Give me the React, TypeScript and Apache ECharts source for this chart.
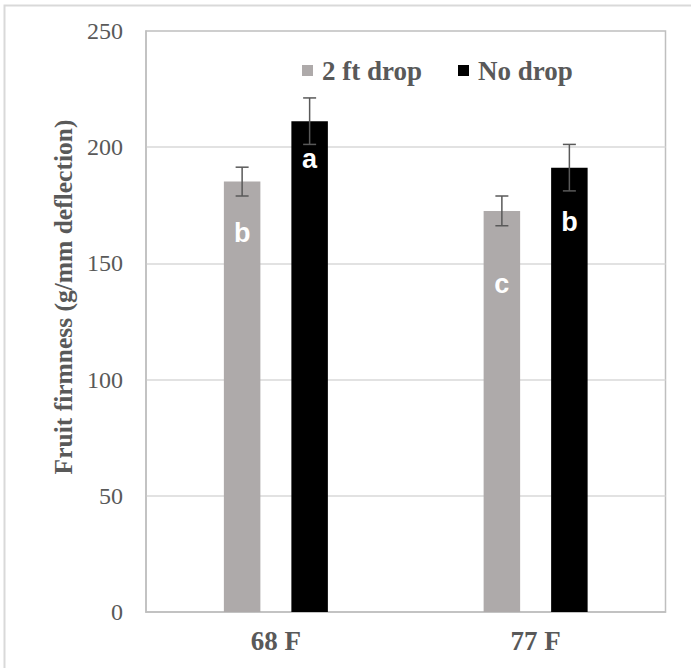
import React, { useEffect, useRef } from "react";
import * as echarts from "echarts";

const categories = ["68 F", "77 F"];
const seriesNames = ["2 ft drop", "No drop"];
const dropValues = [185.2, 172.6];
const noDropValues = [211.2, 191.2];
const dropErrors = [6.2, 6.4];
const noDropErrors = [10.0, 10.0];
const dropLetters = ["b", "c"];
const noDropLetters = ["a", "b"];
const yTicks = [0, 50, 100, 150, 200, 250];

const dropLabelDistance = [38, 60];
const noDropLabelDistance = [24, 41];

const BAR_W = 36.5;
const BAR_GAP = 31;
const HALF = (BAR_W + BAR_GAP) / 2;

export default function App() {
  const ref = useRef<HTMLDivElement>(null);
  useEffect(() => {
    document.body.style.margin = "0";
    const chart = echarts.init(ref.current!, null, { renderer: "svg" });
    const serif = "'Liberation Serif', 'Times New Roman', serif";
    const sans = "'Liberation Sans', Arial, sans-serif";
    const labelStyle = {
      show: true,
      position: "insideTop",
      color: "#ffffff",
      fontFamily: sans,
      fontWeight: "bold",
      fontSize: 27,
    };
    const errData: any[] = [];
    dropValues.forEach((v, i) => errData.push([i, v, dropErrors[i], -HALF]));
    noDropValues.forEach((v, i) => errData.push([i, v, noDropErrors[i], HALF]));

    chart.setOption({
      animation: false,
      backgroundColor: "#ffffff",
      grid: {
        left: 146,
        top: 31,
        right: 25.5,
        bottom: 56,
        show: true,
        borderColor: "#bfbfbf",
        borderWidth: 1.5,
      },
      legend: {
        data: seriesNames,
        left: 297,
        top: 52,
        itemWidth: 11,
        itemHeight: 11,
        itemGap: 36,
        icon: "rect",
        textStyle: {
          fontFamily: serif,
          fontWeight: "bold",
          fontSize: 27,
          color: "#595959",
          padding: [0, 0, 0, 4],
        },
      },
      xAxis: {
        type: "category",
        data: categories,
        axisLine: { show: true, lineStyle: { color: "#bfbfbf", width: 1.5 } },
        axisTick: { show: false },
        axisLabel: {
          margin: 15,
          fontFamily: serif,
          fontWeight: "bold",
          fontSize: 27,
          color: "#595959",
        },
      },
      yAxis: {
        type: "value",
        min: yTicks[0],
        max: yTicks[yTicks.length - 1],
        interval: 50,
        axisLine: { show: true, lineStyle: { color: "#bfbfbf", width: 1.5 } },
        axisTick: { show: false },
        axisLabel: {
          margin: 23,
          fontFamily: serif,
          fontSize: 24,
          color: "#595959",
        },
        splitLine: {
          show: true,
          showMinLine: false,
          showMaxLine: false,
          lineStyle: { color: "#d9d9d9", width: 1.5 },
        },
      },
      graphic: [
        {
          type: "polyline",
          shape: { points: [[4.5, 700], [4.5, 5.5], [700, 5.5]] },
          style: { stroke: "#d9d9d9", lineWidth: 2, fill: "none" },
          silent: true,
        },
        {
          type: "text",
          x: 63,
          y: 297,
          rotation: Math.PI / 2,
          style: {
            text: "Fruit firmness (g/mm deflection)",
            fontFamily: serif,
            fontWeight: "bold",
            fontSize: 25.5,
            fill: "#595959",
            align: "center",
            verticalAlign: "middle",
          },
        },
      ],
      series: [
        {
          name: seriesNames[0],
          type: "bar",
          barWidth: BAR_W,
          barGap: (BAR_GAP / BAR_W) * 100 + "%",
          itemStyle: { color: "#aeaaaa" },
          data: dropValues.map((v, i) => ({
            value: v,
            label: { ...labelStyle, distance: dropLabelDistance[i], formatter: dropLetters[i] },
          })),
        },
        {
          name: seriesNames[1],
          type: "bar",
          barWidth: BAR_W,
          itemStyle: { color: "#000000" },
          data: noDropValues.map((v, i) => ({
            value: v,
            label: { ...labelStyle, distance: noDropLabelDistance[i], formatter: noDropLetters[i] },
          })),
        },
        {
          type: "custom",
          z: 10,
          silent: true,
          data: errData,
          renderItem: (params: any, api: any) => {
            const idx = api.value(0);
            const v = api.value(1);
            const e = api.value(2);
            const off = api.value(3);
            const top = api.coord([idx, v + e]);
            const bot = api.coord([idx, v - e]);
            const x = top[0] + off;
            const cap = 6.5;
            const st = { stroke: "#595959", lineWidth: 1.5 };
            return {
              type: "group",
              children: [
                { type: "line", shape: { x1: x, y1: top[1], x2: x, y2: bot[1] }, style: st },
                { type: "line", shape: { x1: x - cap, y1: top[1], x2: x + cap, y2: top[1] }, style: st },
                { type: "line", shape: { x1: x - cap, y1: bot[1], x2: x + cap, y2: bot[1] }, style: st },
              ],
            };
          },
        },
      ],
    });
    return () => chart.dispose();
  }, []);
  return <div ref={ref} style={{ width: 691, height: 668 }} />;
}
